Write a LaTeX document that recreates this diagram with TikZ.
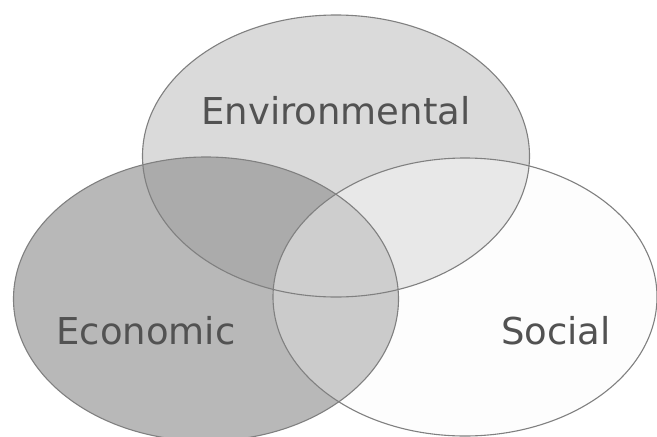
\documentclass[tikz,border=0pt]{standalone}
\usepackage{fontspec}
\setmainfont{DejaVu Sans}
\begin{document}
\begin{tikzpicture}[x=1pt,y=-1pt,
  ring/.style={draw=black!50,line width=1.1pt},
  lbl/.style={text=black!68,font=\fontsize{37}{40}\selectfont,inner sep=0pt,anchor=base}]
\definecolor{cEnv}{HTML}{DADADA}
\definecolor{cEco}{HTML}{B8B8B8}
\definecolor{cEnvEco}{HTML}{ABABAB}
\definecolor{cSoc}{HTML}{FDFDFD}
\definecolor{cSocEnv}{HTML}{E8E8E8}
\definecolor{cSocEco}{HTML}{CBCBCB}
\definecolor{cAll}{HTML}{CECECE}
\fill[white] (0,0) rectangle (657,437);
\useasboundingbox (0,0) rectangle (657,437);
\def\envE{(336,156) ellipse [x radius=193.5,y radius=141]}
\def\ecoE{(206,299) ellipse [x radius=192.5,y radius=142]}
\def\socE{(465,297) ellipse [x radius=192,y radius=139]}
\fill[cEnv] \envE;
\fill[cEco] \ecoE;
\fill[cSoc] \socE;
\begin{scope}\clip \envE; \fill[cEnvEco] \ecoE; \end{scope}
\begin{scope}\clip \envE; \fill[cSocEnv] \socE; \end{scope}
\begin{scope}\clip \ecoE; \fill[cSocEco] \socE; \end{scope}
\begin{scope}\clip \envE; \clip \ecoE; \fill[cAll] \socE; \end{scope}
\draw[ring] \envE;
\draw[ring] \ecoE;
\draw[ring] \socE;
\node[lbl] (env) at (336,124) {Environmental};
\node[lbl] (eco) at (146,344) {Economic};
\node[lbl] (soc) at (556,344) {Social};
\end{tikzpicture}
\end{document}
